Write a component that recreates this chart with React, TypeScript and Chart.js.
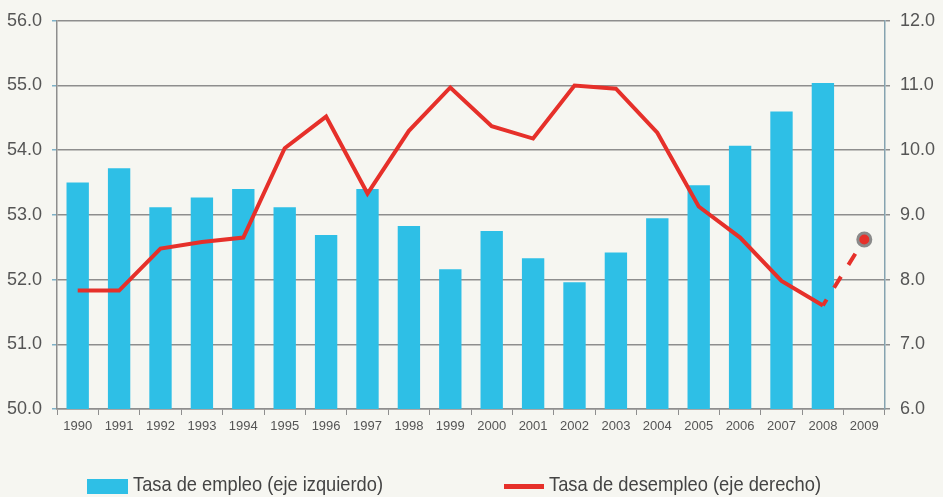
import React, { useEffect, useRef } from "react";
import { Chart, registerables } from "chart.js";

Chart.register(...registerables);

const years = ["1990","1991","1992","1993","1994","1995","1996","1997","1998","1999","2000","2001","2002","2003","2004","2005","2006","2007","2008","2009"];
const employment = [53.5, 53.72, 53.12, 53.27, 53.4, 53.12, 52.69, 53.4, 52.83, 52.16, 52.75, 52.33, 51.96, 52.42, 52.95, 53.46, 54.07, 54.6, 55.04, null];
const unemployment = [7.83, 7.83, 8.48, 8.58, 8.65, 10.03, 10.52, 9.33, 10.3, 10.97, 10.37, 10.18, 11.0, 10.95, 10.27, 9.13, 8.65, 7.98, 7.6, 8.62];
const leftTicks = [50, 51, 52, 53, 54, 55, 56];
const rightTicks = [6, 7, 8, 9, 10, 11, 12];
const legendLabels = ["Tasa de empleo (eje izquierdo)", "Tasa de desempleo (eje derecho)"];

const BLUE = "#2ebfe6";
const RED = "#e6302a";
const GRID = "#8e8e8e";
const BG = "#f6f6f1";

const legendPlugin = {
  id: "customLegend",
  afterDraw(chart: any) {
    const ctx = chart.ctx;
    ctx.save();
    ctx.fillStyle = BLUE;
    ctx.fillRect(87, 479, 41, 15);
    ctx.fillStyle = RED;
    ctx.fillRect(504, 484, 40, 5);
    ctx.fillStyle = "#444444";
    ctx.font = "21px 'Liberation Sans', Arial, sans-serif";
    ctx.textBaseline = "alphabetic";
    const items = [
      { text: legendLabels[0], x: 133, w: 250 },
      { text: legendLabels[1], x: 549, w: 272 },
    ];
    for (const it of items) {
      const m = ctx.measureText(it.text).width;
      const sx = it.w / m;
      ctx.save();
      ctx.translate(it.x, 491);
      ctx.scale(sx, 1);
      ctx.fillText(it.text, 0, 0);
      ctx.restore();
    }
    ctx.restore();
  },
};

export default function App() {
  const ref = useRef<HTMLCanvasElement>(null);
  useEffect(() => {
    document.body.style.margin = "0";
    const canvas = ref.current!;
    const chart = new Chart(canvas, {
      type: "bar",
      data: {
        labels: years,
        datasets: [
          {
            type: "line",
            label: legendLabels[1],
            data: unemployment,
            yAxisID: "y2",
            borderColor: RED,
            backgroundColor: RED,
            borderWidth: 4,
            tension: 0,
            borderJoinStyle: "miter",
            pointRadius: (c: any) => (c.dataIndex === 19 ? 6.5 : 0),
            pointBackgroundColor: RED,
            pointBorderColor: "#8a8a8a",
            pointBorderWidth: 3,
            order: 1,
            segment: {
              borderDash: (c: any) => (c.p0DataIndex === 18 ? [13, 14] : undefined),
              borderDashOffset: (c: any) => (c.p0DataIndex === 18 ? 6 : 0),
            },
          } as any,
          {
            type: "bar",
            label: legendLabels[0],
            data: employment,
            yAxisID: "y",
            backgroundColor: BLUE,
            borderWidth: 0,
            categoryPercentage: 1,
            barPercentage: 0.54,
            order: 2,
          },
        ],
      },
      options: {
        responsive: false,
        animation: false,
        devicePixelRatio: 1,
        layout: { padding: { top: 19, left: 0, right: 0, bottom: 0 } },
        plugins: { legend: { display: false }, tooltip: { enabled: false } },
        scales: {
          x: {
            offset: true,
            grid: { drawOnChartArea: false, drawTicks: true, tickLength: 6, color: GRID, offset: true },
            border: { color: GRID, width: 1.5 },
            ticks: { color: "#555555", font: { size: 13, family: "'Liberation Sans', Arial, sans-serif" }, padding: 4, maxRotation: 0, autoSkip: false },
            afterFit: (s: any) => { s.height = 88; },
          },
          y: {
            position: "left",
            min: leftTicks[0],
            max: leftTicks[leftTicks.length - 1],
            afterBuildTicks: (s: any) => { s.ticks = leftTicks.map((v) => ({ value: v })); },
            grid: { color: GRID, lineWidth: 1.5, tickLength: 5, tickColor: "#7fb2c8" },
            border: { color: GRID, width: 1.5 },
            ticks: { color: "#555555", padding: 10, font: { size: 18, family: "'Liberation Sans', Arial, sans-serif" }, callback: (v: any) => Number(v).toFixed(1) },
            afterFit: (s: any) => { s.width = 57; },
          },
          y2: {
            position: "right",
            min: rightTicks[0],
            max: rightTicks[rightTicks.length - 1],
            afterBuildTicks: (s: any) => { s.ticks = rightTicks.map((v) => ({ value: v })); },
            grid: { drawOnChartArea: false, tickLength: 5, tickColor: GRID, lineWidth: 1.5 },
            border: { color: "#86a3b0", width: 1.5 },
            ticks: { color: "#555555", padding: 10, font: { size: 18, family: "'Liberation Sans', Arial, sans-serif" }, callback: (v: any) => Number(v).toFixed(1) },
            afterFit: (s: any) => { s.width = 58; },
          },
        },
      },
      plugins: [legendPlugin],
    } as any);
    return () => chart.destroy();
  }, []);
  return (
    <div style={{ width: 943, height: 497, background: BG }}>
      <canvas ref={ref} width={943} height={497} style={{ display: "block" }} />
    </div>
  );
}
